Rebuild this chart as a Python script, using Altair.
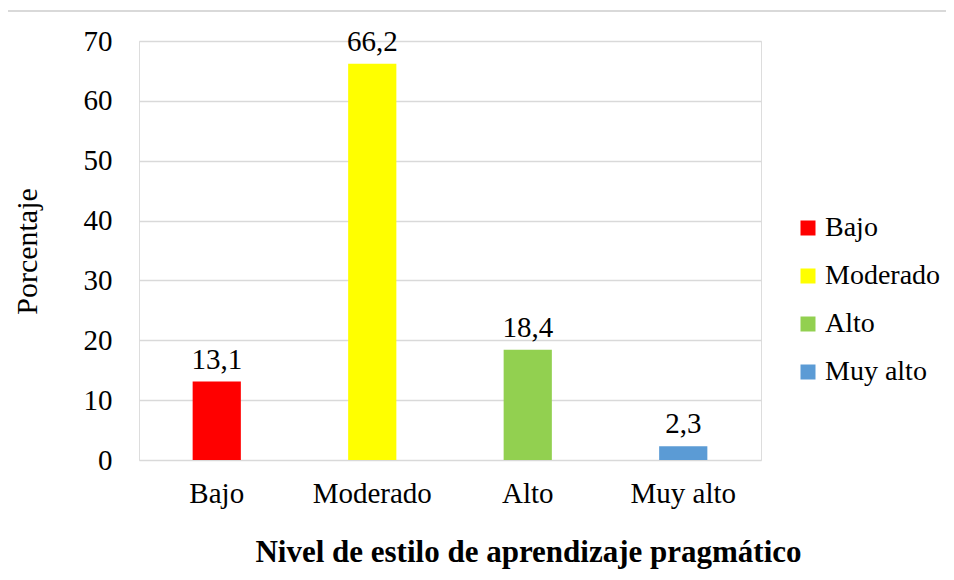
import altair as alt
import pandas as pd

categorias = ["Bajo", "Moderado", "Alto", "Muy alto"]
porcentajes = [13.1, 66.2, 18.4, 2.3]
etiquetas = ["13,1", "66,2", "18,4", "2,3"]
colores = ["#FF0000", "#FFFF00", "#92D050", "#5B9BD5"]

df = pd.DataFrame({"nivel": categorias, "pct": porcentajes, "label": etiquetas})

FONT = "Liberation Serif"
FS = 29

x = alt.X("nivel:N", sort=categorias,
          scale=alt.Scale(paddingInner=0.69, paddingOuter=0.345),
          axis=alt.Axis(title="Nivel de estilo de aprendizaje pragmático",
                        labelAngle=0, ticks=False, domain=False,
                        labelPadding=19, labelFontSize=FS, labelFont=FONT,
                        labelColor="#000000",
                        titleFont=FONT, titleFontSize=31, titleFontWeight="bold",
                        titleColor="#000000", titleX=389, titleY=77,
                        titleBaseline="top",
                        titleAnchor="middle", titleAlign="center"))
y = alt.Y("pct:Q", scale=alt.Scale(domain=[0, 70]),
          axis=alt.Axis(title="Porcentaje", values=list(range(0, 71, 10)),
                        ticks=False, domain=False, gridColor="#d9d9d9",
                        gridWidth=1.5, labelPadding=27, labelFontSize=FS,
                        labelFont=FONT, labelColor="#000000",
                        titleFont=FONT, titleFontSize=30, titleFontWeight="normal",
                        titleColor="#000000", titleX=-97, titleY=210,
                        titleAngle=-90, titleBaseline="bottom", titleAlign="center"))

bars = alt.Chart(df).mark_bar().encode(
    x=x, y=y,
    color=alt.Color("nivel:N", sort=categorias,
                    scale=alt.Scale(domain=categorias, range=colores),
                    legend=alt.Legend(title=None, orient="none", legendX=655, legendY=173,
                                      padding=0,
                                      symbolType="square", symbolSize=225,
                                      symbolStrokeWidth=0, labelFont=FONT,
                                      labelFontSize=28, labelColor="#000000",
                                      rowPadding=20, labelOffset=3,
                                      symbolOpacity=1))
)

text = alt.Chart(df).mark_text(baseline="alphabetic", dy=-13, font=FONT, fontSize=FS,
                               color="#000000").encode(
    x=alt.X("nivel:N", sort=categorias), y="pct:Q", text="label:N")

border = alt.Chart(df).mark_rect(fill=None, stroke="#d9d9d9", strokeWidth=1.5,
                                 clip=False).encode(
    x=alt.value(-135), x2=alt.value(900), y=alt.value(-30), y2=alt.value(700))

chart = alt.layer(border, bars, text).properties(
    width=622, height=419,
    autosize=alt.AutoSizeParams(type="none"),
    padding={"left": 131, "top": 33, "right": 185, "bottom": 112}
).configure_view(stroke=None).configure(background="white", font=FONT)

chart.save("out.html", embed_options={"renderer": "svg", "actions": False})
